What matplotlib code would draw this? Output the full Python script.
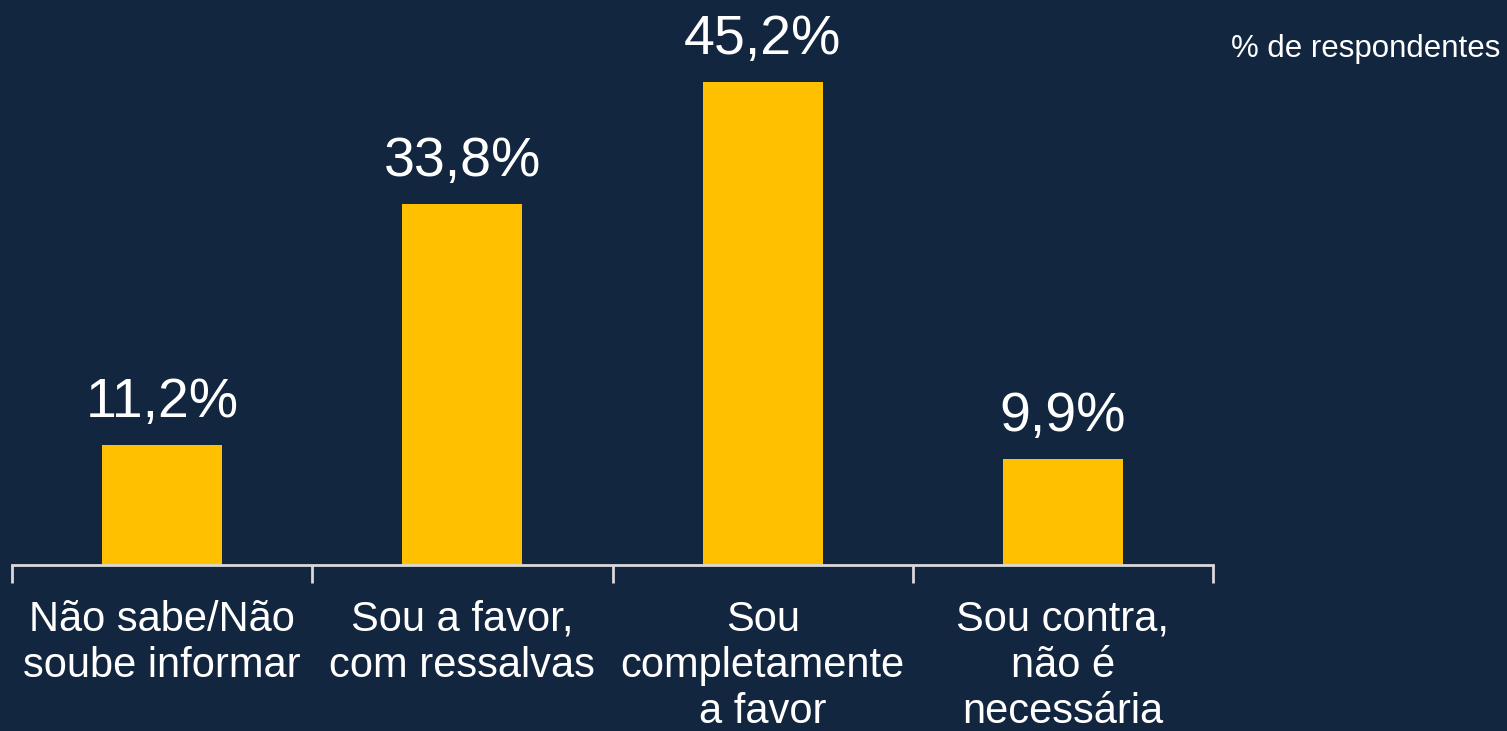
import numpy as np
import matplotlib.pyplot as plt

categories = ["Não sabe/Não\nsoube informar", "Sou a favor,\ncom ressalvas",
              "Sou\ncompletamente\na favor", "Sou contra,\nnão é\nnecessária"]
values = [11.2, 33.8, 45.2, 9.9]
value_labels = ["11,2%", "33,8%", "45,2%", "9,9%"]

bg = "#13263F"
bar_color = "#FFC000"

plt.rcParams['font.family'] = ['Liberation Sans', 'DejaVu Sans']

fig = plt.figure(figsize=(15.07, 7.31), dpi=100, facecolor=bg)
ax = fig.add_axes([12 / 1507, 1 - 565 / 731, 1201 / 1507, 565 / 731])
ax.set_facecolor(bg)

x = np.arange(len(categories))
ax.bar(x, values, width=0.4, color=bar_color)
ax.set_xlim(-0.5, len(categories) - 0.5)
ax.set_ylim(0, 52.85)

for xi, v, lab in zip(x, values, value_labels):
    ax.text(xi, v + 1.5, lab, ha='center', va='bottom', color='white', fontsize=40)

for s in ['top', 'right', 'left']:
    ax.spines[s].set_visible(False)
ax.spines['bottom'].set_color('#D9D9D9')
ax.spines['bottom'].set_linewidth(2)
ax.set_yticks([])

# boundaries get the ticks, centres get the labels
ax.set_xticks(np.arange(len(categories) + 1) - 0.5)
ax.set_xticklabels([])
ax.tick_params(axis='x', which='major', length=13, width=2, color='#D9D9D9', direction='out')
ax.set_xticks(x, minor=True)
ax.set_xticklabels(categories, minor=True, color='white', fontsize=30, linespacing=1.19)
ax.tick_params(axis='x', which='minor', length=0, pad=25)

fig.text(1500 / 1507, 1 - 49 / 731, "% de respondentes", ha='right', va='center',
         color='white', fontsize=22.5)

fig.savefig('out.png', dpi=100, facecolor=bg)
